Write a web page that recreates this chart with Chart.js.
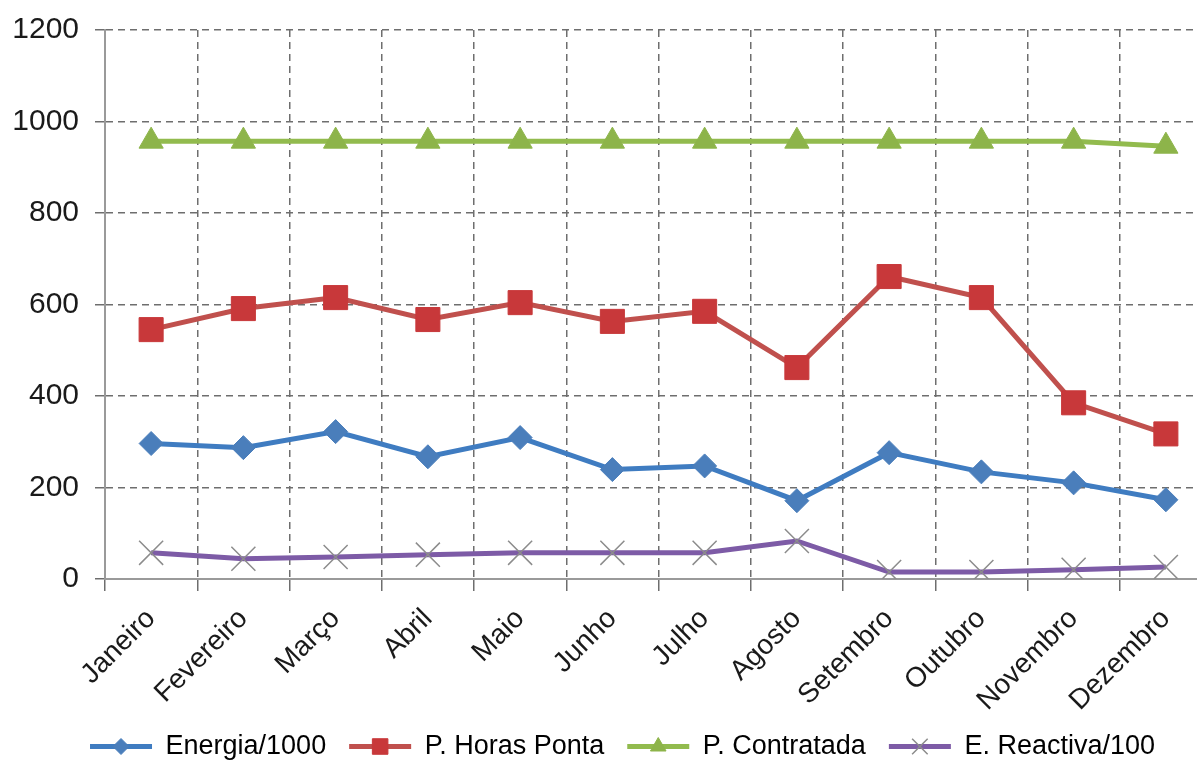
<!DOCTYPE html>
<html>
<head>
<meta charset="utf-8">
<script src="https://cdn.jsdelivr.net/npm/chart.js@4.4.0/dist/chart.umd.min.js"></script>
<style>
  html, body { margin: 0; padding: 0; background: #fff; overflow: hidden; }
  #wrap { position: relative; width: 1212px; height: 762px; }
</style>
</head>
<body>
<div id="wrap"><canvas id="c"></canvas></div>
<script>
const months = ['Janeiro', 'Fevereiro', 'Março', 'Abril', 'Maio', 'Junho', 'Julho', 'Agosto', 'Setembro', 'Outubro', 'Novembro', 'Dezembro'];
const energia = [296, 287, 322, 267, 309, 239, 247, 171, 276, 234, 210, 173];
const horasPonta = [545, 591, 615, 567, 604, 563, 585, 462, 661, 615, 385, 317];
const contratada = [957, 957, 957, 957, 957, 957, 957, 957, 957, 957, 957, 946];
const reactiva = [57, 44, 48, 53, 57, 57, 57, 83, 15, 15, 20, 26];
const yTicks = [0, 200, 400, 600, 800, 1000, 1200];

const FONT = 'Liberation Sans, Arial, sans-serif';
const LEG_LINE = 62;   // comprimento visível da linha na legenda
const LEG_GAP = 19;    // espaço extra antes de cada item

// linha + marcador desenhados na caixa da legenda
const legendMarkers = {
  id: 'legendMarkers',
  afterDraw(chart) {
    const lg = chart.legend;
    if (!lg || !lg.legendHitBoxes) return;
    const ctx = chart.ctx;
    lg.legendHitBoxes.forEach((hb, i) => {
      const ds = chart.data.datasets[i];
      const y = hb.top + hb.height / 2;
      const x0 = hb.left + LEG_GAP;
      ctx.save();
      ctx.strokeStyle = ds.borderColor;
      ctx.lineWidth = 5;
      ctx.beginPath();
      ctx.moveTo(x0, y);
      ctx.lineTo(x0 + LEG_LINE, y);
      ctx.stroke();
      ctx.fillStyle = ds.pointBackgroundColor;
      ctx.strokeStyle = ds.pointBorderColor;
      ctx.lineWidth = ds.pointBorderWidth;
      Chart.helpers.drawPoint(ctx, {
        pointStyle: ds.pointStyle,
        radius: ds.legendRadius,
        rotation: 0,
        borderWidth: ds.pointBorderWidth
      }, x0 + LEG_LINE / 2, y);
      ctx.restore();
    });
  }
};

const series = [
  { label: 'Energia/1000', data: energia, color: '#4a7ebb', line: '#3f7cc1', style: 'rectRot', r: 12, lr: 8, bc: '#4a7ebb', bw: 1 },
  { label: 'P. Horas Ponta', data: horasPonta, color: '#c8383a', line: '#c0504d', style: 'rect', r: 17, lr: 11, bc: '#c8383a', bw: 1 },
  { label: 'P. Contratada', data: contratada, color: '#8db44a', line: '#92bb4e', style: 'triangle', r: 14, lr: 9, bc: '#8db44a', bw: 1 },
  { label: 'E. Reactiva/100', data: reactiva, color: 'rgba(0,0,0,0)', line: '#7d5ba6', style: 'crossRot', r: 17, lr: 11, bc: '#8c8c8c', bw: 1.5 }
];

new Chart(document.getElementById('c'), {
  type: 'line',
  data: {
    labels: months,
    datasets: series.map(s => ({
      label: s.label,
      data: s.data,
      borderColor: s.line,
      backgroundColor: s.line,
      borderWidth: 5,
      tension: 0,
      pointStyle: s.style,
      pointRadius: s.r,
      pointBackgroundColor: s.color,
      pointBorderColor: s.bc,
      pointBorderWidth: s.bw,
      legendRadius: s.lr
    }))
  },
  options: {
    responsive: true,
    maintainAspectRatio: false,
    animation: false,
    layout: { autoPadding: false, padding: { left: 14, top: 30, right: 0, bottom: -8 } },
    scales: {
      x: {
        offset: true,
        afterFit: (scale) => { scale.paddingLeft = 0; scale.paddingRight = 0; },
        grid: { offset: true, color: '#6e6e6e', lineWidth: 1.5, tickLength: 12 },
        border: { color: '#9a9a9a', width: 2, dash: [7, 5] },
        ticks: {
          color: '#1a1a1a',
          font: { family: FONT, size: 28 },
          maxRotation: 45,
          minRotation: 45,
          padding: 11.5,
          autoSkip: false
        }
      },
      y: {
        min: 0,
        max: 1200,
        afterBuildTicks: (scale) => { scale.ticks = yTicks.map(v => ({ value: v })); },
        afterFit: (scale) => { scale.width = 91; scale.paddingTop = 0; },
        grid: { color: '#6e6e6e', lineWidth: 1.5, tickLength: 10 },
        border: { color: '#9a9a9a', width: 2, dash: [7, 5] },
        ticks: {
          color: '#1a1a1a',
          font: { family: FONT, size: 30 },
          padding: 16,
          callback: (v) => String(v)
        }
      }
    },
    plugins: {
      legend: {
        position: 'bottom',
        labels: {
          color: '#1a1a1a',
          font: { family: FONT, size: 27 },
          boxWidth: LEG_GAP + LEG_LINE,
          boxHeight: 5,
          padding: 4,
          generateLabels: (chart) => chart.data.datasets.map((ds, i) => ({
            text: ds.label,
            fillStyle: 'rgba(0,0,0,0)',
            strokeStyle: 'rgba(0,0,0,0)',
            lineWidth: 0,
            datasetIndex: i
          }))
        }
      },
      tooltip: { enabled: false }
    }
  },
  plugins: [legendMarkers]
});
</script>
</body>
</html>
